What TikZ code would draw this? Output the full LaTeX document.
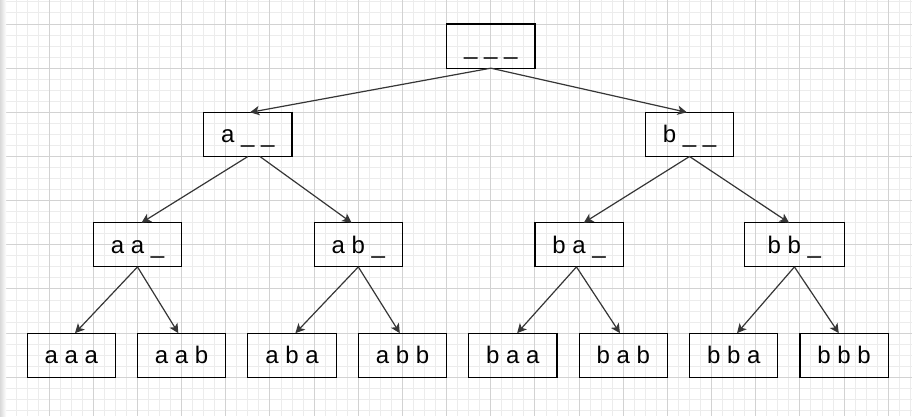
\documentclass[tikz,border=0pt]{standalone}
\usepackage{fontspec}
\setmainfont{Liberation Sans}
\usetikzlibrary{positioning,arrows.meta}
\definecolor{edgegray}{HTML}{363636}
\definecolor{gridmajor}{HTML}{D2D2D2}
\definecolor{gridminor}{HTML}{ECECEC}

\begin{document}
\begin{tikzpicture}[x=0.828pt,y=-0.828pt,
  box/.style={draw,rectangle,line width=0.85pt,minimum width=66.24pt,minimum height=33.12pt,
    inner sep=0pt,outer sep=0pt,text height=16.3pt,text depth=3.8pt,font=\fontsize{18}{21}\selectfont},
  edge/.style={draw=edgegray,line width=0.9pt,-{Stealth[length=7pt,width=7pt,inset=1.8pt]}}]

% background grid
\useasboundingbox (-4.53,-21.74) rectangle (821.5,355.06);
\fill[white] (-4.53,-21.74) rectangle (821.5,355.06);
\foreach \gx in {0,10,...,820} \draw[gridminor,line width=0.75pt] (\gx,-21.74) -- (\gx,355.06);
\foreach \gy in {-20,-10,...,350} \draw[gridminor,line width=0.75pt] (-4.53,\gy) -- (821.5,\gy);
\foreach \gx in {0,40,...,800} \draw[gridmajor,line width=0.75pt] (\gx,-21.74) -- (\gx,355.06);
\foreach \gy in {0,40,...,320} \draw[gridmajor,line width=0.75pt] (-4.53,\gy) -- (821.5,\gy);
\shade[left color=gray!30,right color=white] (-4.53,-21.74) rectangle (1,355.06);

% tree
\node[box] (root) at (440,20) {\_ \_ \_};
\node[box] (a) at (220,100) {a \_ \_};
\node[box] (b) at (620,100) {b \_ \_};
\node[box] (aa) at (120,200) {a a \_};
\node[box] (ab) at (320,200) {a b \_};
\node[box] (ba) at (520,200) {b a \_};
\node[box,minimum width=74.52pt] (bb) at (715,200) {b b \_};
\node[box] (aaa) at (60,300) {a a a};
\node[box,right=16.56pt of aaa] (aab) {a a b};
\node[box,right=16.56pt of aab] (aba) {a b a};
\node[box,right=16.56pt of aba] (abb) {a b b};
\node[box,right=16.56pt of abb] (baa) {b a a};
\node[box,right=16.56pt of baa] (bab) {b a b};
\node[box,right=16.56pt of bab] (bba) {b b a};
\node[box,right=16.56pt of bba] (bbb) {b b b};

\draw[edge] (root.south) -- ([xshift=1.6pt]a.north);
\draw[edge] (root.south) -- ([xshift=-2pt]b.north);
\draw[edge] (a.south) -- ([xshift=3pt]aa.north);
\draw[edge] ([xshift=9pt]a.south) -- ([xshift=-5pt]ab.north);
\draw[edge] (b.south) -- ([xshift=3.5pt]ba.north);
\draw[edge] (b.south) -- ([xshift=-4pt]bb.north);
\draw[edge] (aa.south) -- ([xshift=2.8pt]aaa.north);
\draw[edge] (aa.south) -- ([xshift=-2.5pt]aab.north);
\draw[edge] (ab.south) -- ([xshift=2.5pt]aba.north);
\draw[edge] (ab.south) -- ([xshift=-2pt]abb.north);
\draw[edge] ([xshift=-2pt]ba.south) -- ([xshift=3.2pt]baa.north);
\draw[edge] ([xshift=-2pt]ba.south) -- ([xshift=-2.5pt]bab.north);
\draw[edge] (bb.south) -- ([xshift=2.5pt]bba.north);
\draw[edge] (bb.south) -- ([xshift=-4pt]bbb.north);
\end{tikzpicture}
\end{document}
